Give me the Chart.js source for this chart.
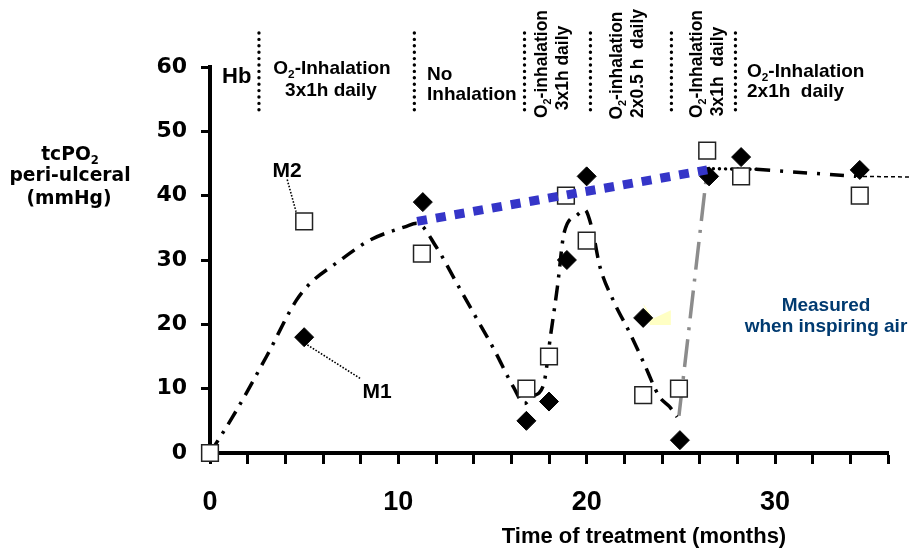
<!DOCTYPE html>
<html>
<head>
<meta charset="utf-8">
<script src="https://cdn.jsdelivr.net/npm/chart.js@4.4.1/dist/chart.umd.min.js"></script>
<style>
  html, body { margin: 0; padding: 0; background: #fff; }
  #wrap { width: 912px; height: 554px; }
</style>
</head>
<body>
<div id="wrap"><canvas id="chart" width="912" height="554"></canvas></div>
<script>
// tcPO2 peri-ulceral over months of treatment (M1 / M2)

// ─── Data ───────────────────────────────────────────────────────────────────

const m1Months = [5, 11.3, 16.8, 18.0, 18.95, 20.0, 23.0, 24.95, 26.5, 28.2, 34.5];
const m1Values = [18, 39, 5, 8, 30, 43, 21, 2, 43, 46, 44];

const m2Months = [0, 5, 11.25, 16.8, 18.0, 18.9, 20.0, 23.0, 24.9, 26.4, 28.2, 34.5];
const m2Values = [0, 36, 31, 10, 15, 40, 33, 9, 10, 47, 43, 40];

// hand-drawn trend through both patients
const trendMonths = [0, 1.2, 3.0, 4.6, 5.4, 6.7, 8.5, 10.4, 11.0, 12.0, 13.1, 14.1, 15.1, 16.1, 16.7,
  17.1, 17.7, 18.1, 18.45, 18.8, 19.5, 19.9, 20.3, 20.7, 21.4, 22.3, 23.05, 23.85, 24.4, 24.8];
const trendValues = [0, 5.6, 15, 23.8, 26.6, 29.5, 33.1, 35.2, 35.7, 32.1, 26.4, 21.2, 16.0, 10.3, 7.7,
  8.8, 10.5, 18.6, 25.9, 34.2, 37.0, 37.8, 34.7, 29.0, 23.8, 18.6, 13.9, 8.8, 7.2, 5.6];

const recoveryMonths = [24.9, 26.4];
const recoveryValues = [5.8, 44];

const o2TrendMonths = [11.0, 26.4];
const o2TrendValues = [36, 44];

const tailDotMonths = [26.4, 29.0];
const tailDotValues = [44.2, 44.1];
const tailMonths = [29.0, 34.3];
const tailValues = [44.1, 43.0];
const airMonths = [34.3, 37.3];
const airValues = [43.0, 42.9];

const m1LeaderMonths = [5.17, 7.97];
const m1LeaderValues = [16.8, 11.6];
const m2LeaderMonths = [4.1, 4.57];
const m2LeaderValues = [42.5, 37.5];

const glareMonths = [23.0, 23.54, 24.47, 24.47, 23.37, 23.0];
const glareValues = [23.2, 20.9, 22.2, 19.9, 19.9, 23.2];

// treatment phase boundaries (months)
const phaseBounds = [2.6, 10.85, 16.7, 20.2, 24.5, 27.9];

const xLabelled = [0, 10, 20, 30];
const xMax = 36, xStep = 2;
const yMax = 60, yStep = 10;

// ─── Texts (layout in px) ───────────────────────────────────────────────────

const NAVY = '#003a70';
const SANS = '"Liberation Sans", Arial, sans-serif';
const WIDE = '"DejaVu Sans", Verdana, sans-serif';

const texts = [
  { t: 'Hb', x: 222, y: 83, size: 22, align: 'left' },
  { t: 'O_2-Inhalation', x: 332, y: 74, size: 19 },
  { t: '3x1h daily', x: 331, y: 96, size: 19 },
  { t: 'No', x: 427, y: 80, size: 19, align: 'left' },
  { t: 'Inhalation', x: 427, y: 100, size: 19, align: 'left' },
  { t: 'O_2-Inhalation', x: 747, y: 77, size: 19, align: 'left' },
  { t: '2x1h  daily', x: 747, y: 97, size: 19, align: 'left' },
  { t: 'M2', x: 287, y: 177, size: 21 },
  { t: 'M1', x: 377, y: 398, size: 21 },
  { t: 'Measured', x: 826, y: 311, size: 19, color: NAVY },
  { t: 'when inspiring air', x: 826, y: 332, size: 19, color: NAVY },
  { t: 'tcPO_2', x: 70, y: 160, size: 18.7, family: WIDE },
  { t: 'peri-ulceral', x: 70, y: 181, size: 18.7, family: WIDE },
  { t: '(mmHg)', x: 69, y: 204, size: 18.7, family: WIDE },
  { t: 'Time of treatment (months)', x: 644, y: 543, size: 22 },
];

const rotatedTexts = [
  { t: 'O_2-inhalation', x: 547, y: 64, size: 17.5 },
  { t: '3x1h daily', x: 568, y: 68, size: 17.5 },
  { t: 'O_2-inhalation', x: 622, y: 65.5, size: 17.5 },
  { t: '2x0.5 h  daily', x: 643, y: 63.5, size: 17.5 },
  { t: 'O_2-Inhalation', x: 702, y: 64, size: 17.5 },
  { t: '3x1h  daily', x: 723, y: 71.5, size: 17.5 },
];

// ─── Helpers ────────────────────────────────────────────────────────────────

const pts = (xs, ys) => xs.map((x, i) => ({ x, y: ys[i] }));

function lineSet(xs, ys, color, width, dash, order, extra) {
  return Object.assign({
    data: pts(xs, ys),
    showLine: true,
    pointRadius: 0,
    borderColor: color,
    borderWidth: width,
    borderDash: dash,
    fill: false,
    tension: 0,
    clip: false,
    order,
  }, extra || {});
}

// "O_2-x" -> O, subscript 2, -x
function drawRich(ctx, s, x, y, size, align, family, color) {
  const parts = s.split(/_(\d)/);
  const fontOf = i => `bold ${i % 2 ? size * 0.62 : size}px ${family}`;
  let w = 0;
  parts.forEach((p, i) => { ctx.font = fontOf(i); w += ctx.measureText(p).width; });
  let cx = align === 'left' ? x : x - w / 2;
  ctx.fillStyle = color;
  ctx.textAlign = 'left';
  ctx.textBaseline = 'alphabetic';
  parts.forEach((p, i) => {
    ctx.font = fontOf(i);
    ctx.fillText(p, cx, y + (i % 2 ? size * 0.22 : 0));
    cx += ctx.measureText(p).width;
  });
}

const annotations = {
  id: 'annotations',
  afterDraw(chart) {
    const { ctx } = chart;
    const xs = chart.scales.x;
    ctx.save();
    ctx.strokeStyle = '#000';
    ctx.lineWidth = 3.4;
    ctx.lineCap = 'round';
    ctx.setLineDash([0, 6.4]);
    phaseBounds.forEach(m => {
      const px = xs.getPixelForValue(m);
      ctx.beginPath();
      ctx.moveTo(px, 33);
      ctx.lineTo(px, 115);
      ctx.stroke();
    });
    ctx.setLineDash([]);

    texts.forEach(d => drawRich(ctx, d.t, d.x, d.y, d.size, d.align || 'center', d.family || SANS, d.color || '#000'));

    rotatedTexts.forEach(d => {
      ctx.save();
      ctx.translate(d.x, d.y);
      ctx.rotate(-Math.PI / 2);
      drawRich(ctx, d.t, 0, 0, d.size, 'center', SANS, '#000');
      ctx.restore();
    });
    ctx.restore();
  },
};

// ─── Chart ──────────────────────────────────────────────────────────────────

new Chart(document.getElementById('chart'), {
  type: 'scatter',
  data: {
    datasets: [
      lineSet(o2TrendMonths, o2TrendValues, '#3535c8', 9, [10, 9], 0, { borderCapStyle: 'butt' }),
      {
        label: 'M1',
        data: pts(m1Months, m1Values),
        pointStyle: 'rectRot',
        pointRadius: 9.5,
        backgroundColor: '#000',
        borderColor: '#000',
        borderWidth: 1,
        clip: false,
        order: 1,
      },
      {
        label: 'M2',
        data: pts(m2Months, m2Values),
        pointStyle: 'rect',
        pointRadius: 11.8,
        backgroundColor: '#fff',
        borderColor: '#222',
        borderWidth: 1.5,
        clip: false,
        order: 2,
      },
      lineSet(m1LeaderMonths, m1LeaderValues, '#000', 1.6, [1.6, 1.6], 3),
      lineSet(m2LeaderMonths, m2LeaderValues, '#000', 1.6, [1.6, 1.6], 3),
      lineSet(trendMonths, trendValues, '#000', 3.5, [15, 8, 3, 8], 4, { cubicInterpolationMode: 'monotone' }),
      lineSet(tailDotMonths, tailDotValues, '#000', 3.4, [0.1, 6], 4, { borderCapStyle: 'round' }),
      lineSet(tailMonths, tailValues, '#000', 3.5, [14, 10, 3, 10], 4),
      lineSet(airMonths, airValues, '#000', 1.5, [4, 3], 4),
      lineSet(recoveryMonths, recoveryValues, '#8c8c8c', 3.5, [28, 9, 3, 9], 5),
      lineSet(glareMonths, glareValues, 'rgba(0,0,0,0)', 0, [], 6, { fill: 'shape', backgroundColor: '#ffffc4' }),
    ],
  },
  options: {
    responsive: false,
    animation: false,
    events: [],
    layout: { padding: { left: 0, top: 67, right: 24, bottom: 0 } },
    plugins: { legend: { display: false }, tooltip: { enabled: false } },
    scales: {
      x: {
        type: 'linear',
        min: 0,
        max: xMax,
        afterFit: s => { s.height = 101; },
        ticks: {
          stepSize: xStep,
          autoSkip: false,
          maxRotation: 0,
          padding: 22,
          color: '#000',
          font: { family: SANS, size: 27, weight: 'bold' },
          callback: v => (xLabelled.includes(v) ? String(v) : ''),
        },
        grid: { drawOnChartArea: false, drawTicks: true, tickLength: 11, tickWidth: 3, tickColor: '#000' },
        border: { display: true, width: 4, color: '#000' },
      },
      y: {
        min: 0,
        max: yMax,
        afterFit: s => { s.width = 210; },
        ticks: {
          stepSize: yStep,
          padding: 14,
          color: '#000',
          font: { family: WIDE, size: 22, weight: 'bold' },
        },
        grid: { drawOnChartArea: false, drawTicks: true, tickLength: 9, tickWidth: 3, tickColor: '#000' },
        border: { display: true, width: 4, color: '#000' },
      },
    },
  },
  plugins: [annotations],
});
</script>
</body>
</html>
